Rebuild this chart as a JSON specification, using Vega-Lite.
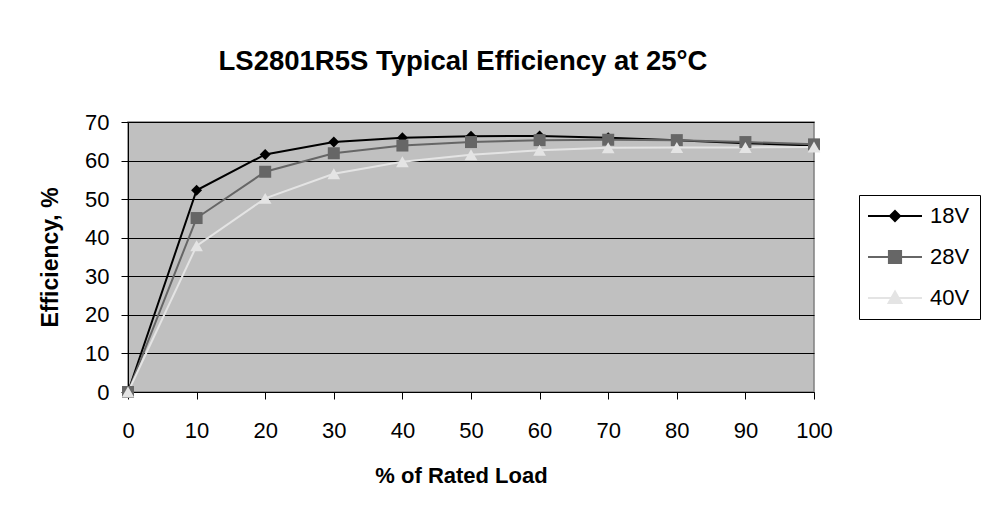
{
  "$schema": "https://vega.github.io/schema/vega-lite/v6.json",
  "width": 686,
  "height": 270,
  "autosize": {"type": "none"},
  "padding": {"left": 128, "top": 122, "right": 167, "bottom": 128},
  "background": "white",
  "title": {
    "text": "LS2801R5S Typical Efficiency at 25°C",
    "font": "Liberation Sans",
    "fontSize": 27.5,
    "fontWeight": "bold",
    "color": "black",
    "anchor": "middle",
    "frame": "group",
    "dx": -8,
    "offset": 36
  },
  "data": {
    "values": [
      {"load": 0, "series": "18V", "eff": 0},
      {"load": 10, "series": "18V", "eff": 52.3},
      {"load": 20, "series": "18V", "eff": 61.6},
      {"load": 30, "series": "18V", "eff": 64.8},
      {"load": 40, "series": "18V", "eff": 65.9},
      {"load": 50, "series": "18V", "eff": 66.3},
      {"load": 60, "series": "18V", "eff": 66.4},
      {"load": 70, "series": "18V", "eff": 65.9},
      {"load": 80, "series": "18V", "eff": 65.3},
      {"load": 90, "series": "18V", "eff": 64.5},
      {"load": 100, "series": "18V", "eff": 63.9},
      {"load": 0, "series": "28V", "eff": 0},
      {"load": 10, "series": "28V", "eff": 45.1},
      {"load": 20, "series": "28V", "eff": 57.1},
      {"load": 30, "series": "28V", "eff": 61.9},
      {"load": 40, "series": "28V", "eff": 63.9},
      {"load": 50, "series": "28V", "eff": 64.8},
      {"load": 60, "series": "28V", "eff": 65.3},
      {"load": 70, "series": "28V", "eff": 65.4},
      {"load": 80, "series": "28V", "eff": 65.3},
      {"load": 90, "series": "28V", "eff": 64.8},
      {"load": 100, "series": "28V", "eff": 64.2},
      {"load": 0, "series": "40V", "eff": 0},
      {"load": 10, "series": "40V", "eff": 37.9},
      {"load": 20, "series": "40V", "eff": 50.2},
      {"load": 30, "series": "40V", "eff": 56.6},
      {"load": 40, "series": "40V", "eff": 59.7},
      {"load": 50, "series": "40V", "eff": 61.5},
      {"load": 60, "series": "40V", "eff": 62.7},
      {"load": 70, "series": "40V", "eff": 63.3},
      {"load": 80, "series": "40V", "eff": 63.4},
      {"load": 90, "series": "40V", "eff": 63.4},
      {"load": 100, "series": "40V", "eff": 63.5}
    ]
  },
  "encoding": {
    "x": {
      "field": "load",
      "type": "quantitative",
      "title": "% of Rated Load",
      "scale": {"domain": [0, 100], "nice": false, "zero": false},
      "axis": {
        "values": [0, 10, 20, 30, 40, 50, 60, 70, 80, 90, 100],
        "grid": false,
        "tickSize": 7,
        "labelFlush": false,
        "labelOverlap": false,
        "labelPadding": 21,
        "titlePadding": 24,
        "titleFontSize": 22,
        "titleX": 333
      }
    },
    "y": {
      "field": "eff",
      "type": "quantitative",
      "title": "Efficiency, %",
      "scale": {"domain": [0, 70], "nice": false},
      "axis": {
        "values": [0, 10, 20, 30, 40, 50, 60, 70],
        "grid": true,
        "gridColor": "black",
        "gridOpacity": 1,
        "gridWidth": 1,
        "tickSize": 7,
        "labelFlush": false,
        "labelOverlap": false,
        "labelPadding": 12,
        "titlePadding": 22,
        "titleFontSize": 23
      }
    }
  },
  "layer": [
    {
      "mark": {"type": "line", "strokeWidth": 2},
      "encoding": {
        "color": {
          "field": "series",
          "type": "nominal",
          "scale": {"range": ["#000000", "#666666", "#e4e4e4"]},
          "legend": null
        }
      }
    },
    {
      "transform": [{"filter": "datum.series === '18V'"}],
      "mark": {"type": "point", "shape": "diamond", "filled": true, "size": 120, "opacity": 1},
      "encoding": {
        "color": {"field": "series", "type": "nominal", "legend": null}
      }
    },
    {
      "transform": [{"filter": "datum.series === '28V'"}],
      "mark": {"type": "point", "shape": "square", "filled": true, "size": 144, "opacity": 1},
      "encoding": {
        "color": {"field": "series", "type": "nominal", "legend": null}
      }
    },
    {
      "transform": [{"filter": "datum.series === '40V'"}],
      "mark": {"type": "point", "shape": "triangle-up", "filled": true, "size": 160, "opacity": 1},
      "encoding": {
        "color": {"field": "series", "type": "nominal", "legend": null}
      }
    },
    {
      "transform": [{"filter": "false"}],
      "mark": {"type": "point", "filled": true, "size": 182},
      "encoding": {
        "fill": {
          "field": "series",
          "type": "nominal",
          "scale": {"domain": ["18V", "28V", "40V"], "range": ["#000000", "#666666", "#e4e4e4"]},
          "legend": {"title": null, "orient": "none", "legendX": 731, "legendY": 73}
        },
        "stroke": {
          "field": "series",
          "type": "nominal",
          "scale": {"domain": ["18V", "28V", "40V"], "range": ["#000000", "#666666", "#e4e4e4"]},
          "legend": {"title": null, "orient": "none", "legendX": 731, "legendY": 73}
        },
        "shape": {
          "field": "series",
          "type": "nominal",
          "scale": {
            "domain": ["18V", "28V", "40V"],
            "range": [
              "M-4,0H4M0,-0.75L0.75,0L0,0.75L-0.75,0Z",
              "M-4,0H4M-0.9,-0.9H0.9V0.9H-0.9Z",
              "M-4,0H4M0,-0.95L0.95,0.75H-0.95Z"
            ]
          },
          "legend": {"title": null, "orient": "none", "legendX": 731, "legendY": 73}
        }
      }
    }
  ],
  "config": {
    "font": "Liberation Sans",
    "view": {"fill": "#C0C0C0", "stroke": "#808080", "strokeWidth": 1.5},
    "axis": {
      "labelFont": "Liberation Sans",
      "labelFontSize": 22,
      "labelColor": "black",
      "titleFont": "Liberation Sans",
      "titleFontSize": 21,
      "titleFontWeight": "bold",
      "titleColor": "black",
      "domainColor": "black",
      "domainWidth": 1,
      "tickColor": "black",
      "tickWidth": 1
    },
    "legend": {
      "padding": 10,
      "strokeColor": "black",
      "fillColor": "white",
      "symbolSize": 182,
      "symbolStrokeWidth": 2,
      "symbolOpacity": 1,
      "labelFont": "Liberation Sans",
      "labelFontSize": 22,
      "labelColor": "black",
      "rowPadding": 19,
      "labelOffset": 24,
      "symbolOffset": 15
    }
  }
}
